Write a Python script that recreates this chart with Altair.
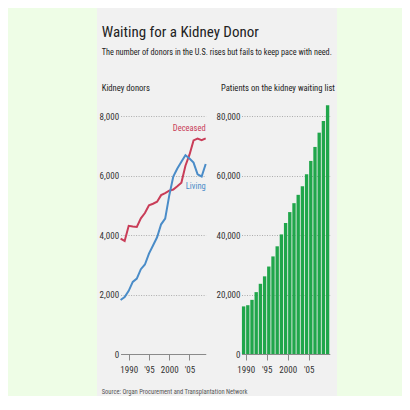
import altair as alt
import pandas as pd

# ---------------- data ----------------
donor_years = list(range(1988, 2010))
deceased = [3876, 3800, 4310, 4285, 4270, 4560, 4740, 5000, 5050, 5120, 5340,
            5410, 5490, 5530, 5640, 5760, 6330, 6700, 7180, 7240, 7190, 7250]
living = [1817, 1918, 2123, 2424, 2535, 2851, 3009, 3376, 3649, 3924, 4359,
          4552, 5324, 5967, 6234, 6465, 6680, 6569, 6434, 6038, 5968, 6387]

wait_years = list(range(1989, 2010))
waiting = [16000, 16400, 18200, 20800, 23600, 26100, 29400, 32800, 36200, 40200,
           44000, 47700, 50700, 53500, 56400, 60400, 64900, 69600, 74400, 78300, 83600]

x_tick_values = [1990, 1995, 2000, 2005]
x_tick_labels = ["1990", "'95", "2000", "'05"]
donor_ticks = [0, 2000, 4000, 6000, 8000]
wait_ticks = [0, 20000, 40000, 60000, 80000]

title_text = "Waiting for a Kidney Donor"
subtitle_text = "The number of donors in the U.S. rises but fails to keep pace with need."
left_head = "Kidney donors"
right_head = "Patients on the kidney waiting list"
source_text = "Source: Organ Procurement and Transplantation Network"

# ---------------- style ----------------
FONT = "Roboto Condensed, DejaVu Sans Condensed, sans-serif"
W, H = 394, 388
PANEL = "#f1f1f1"
OUTER = "#eefde6"
RED = "#c93d58"
BLUE = "#4a8cc8"
GREEN = "#20a64b"
GRID = "#9a9a9a"
AXIS = "#8a8a8a"
TXT = "#222222"

label_expr = " : ".join(f'datum.value == {v} ? "{l}"' for v, l in zip(x_tick_values, x_tick_labels)) + ' : ""'

donors = pd.DataFrame({"year": donor_years, "Deceased": deceased, "Living": living})
wait = pd.DataFrame({"year": wait_years, "waiting": waiting})
one = alt.Data(values=[{"k": 0}])

# ---------------- left panel ----------------
x_left_scale = alt.Scale(domain=[1988, 2009], range=[112.6, 197.7], nice=False, zero=False)
y_left_scale = alt.Scale(domain=[0, 8000], range=[346, 108], nice=False)
x_left_axis = alt.Axis(orient="bottom", offset=-42, values=x_tick_values, labelExpr=label_expr,
                       grid=False, domainColor=AXIS, domainWidth=1.2, tickColor=AXIS, tickSize=6,
                       labelFont=FONT, labelFontSize=9, labelColor="#333", labelPadding=5, title=None)
y_left_axis = alt.Axis(orient="left", offset=-112.6, values=donor_ticks, format=",d", domain=False,
                       ticks=False, grid=True, gridColor=GRID, gridDash=[1, 1.5], gridWidth=0.8,
                       labelFont=FONT, labelFontSize=9, labelColor="#333", labelPadding=2, title=None)

def xl(field="year"):
    return alt.X(f"{field}:Q", scale=x_left_scale, axis=x_left_axis)

def yl(field):
    return alt.Y(f"{field}:Q", scale=y_left_scale, axis=y_left_axis)

red_line = alt.Chart(donors).mark_line(color=RED, strokeWidth=2).encode(x=xl(), y=yl("Deceased"))
blue_line = alt.Chart(donors).mark_line(color=BLUE, strokeWidth=2).encode(x=xl(), y=yl("Living"))
last = donors[donors.year == donor_years[-1]]
red_lab = alt.Chart(last).mark_text(align="right", baseline="middle", dy=-10, font=FONT,
                                    fontSize=8.5, color=RED).encode(
    x=xl(), y=yl("Deceased"), text=alt.value("Deceased"))
blue_lab = alt.Chart(last).mark_text(align="right", baseline="middle", dy=22, font=FONT,
                                     fontSize=8.5, color=BLUE).encode(
    x=xl(), y=yl("Living"), text=alt.value("Living"))
left = alt.layer(red_line, blue_line, red_lab, blue_lab)

# ---------------- right panel ----------------
x_right_scale = alt.Scale(domain=[1989, 2010], range=[233.5, 321.7], nice=False, zero=False)
y_right_scale = alt.Scale(domain=[0, 80000], range=[346, 108], nice=False)
x_right_axis = alt.Axis(orient="bottom", offset=-42, values=x_tick_values, labelExpr=label_expr,
                        grid=False, domainColor=AXIS, domainWidth=1.2, tickColor=AXIS, tickSize=6,
                        labelFont=FONT, labelFontSize=9, labelColor="#333", labelPadding=5, title=None)
y_right_axis = alt.Axis(orient="left", offset=-233.5, values=wait_ticks, format=",d", domain=False,
                        ticks=False, grid=True, gridColor=GRID, gridDash=[1, 1.5], gridWidth=0.8,
                        labelFont=FONT, labelFontSize=9, labelColor="#333", labelPadding=1.5, title=None)

bars = alt.Chart(wait).transform_calculate(
    x0="datum.year + 0.1", x1="datum.year + 0.9", base="0"
).mark_rect(color=GREEN).encode(
    x=alt.X("x0:Q", scale=x_right_scale, axis=x_right_axis),
    x2="x1:Q",
    y=alt.Y("waiting:Q", scale=y_right_scale, axis=y_right_axis),
    y2="base:Q",
)

# ---------------- decoration & text ----------------
def strip(x0, x1):
    return alt.Chart(one).mark_rect(color=OUTER).encode(
        x=alt.value(x0), x2=alt.value(x1), y=alt.value(0), y2=alt.value(H))

def label(txt, x, y, size, color=TXT):
    return alt.Chart(one).mark_text(align="left", baseline="alphabetic", font=FONT,
                                    fontSize=size, color=color).encode(
        x=alt.value(x), y=alt.value(y), text=alt.value(txt))

texts = [
    label(title_text, 93.7, 28.5, 15),
    label(subtitle_text, 93.7, 47, 8.2),
    label(left_head, 93.7, 82.5, 8.6),
    label(right_head, 213, 82.5, 8.6),
    label(source_text, 93.7, 386, 6.5, "#555555"),
]

chart = alt.layer(
    strip(0, 89), strip(329, W), left, bars, *texts
).resolve_scale(x="independent", y="independent").properties(
    width=W, height=H, autosize=alt.AutoSizeParams(type="none"), padding=0, background=PANEL
).configure_view(stroke=None)

chart.save("out.html", embed_options={"renderer": "svg", "actions": False})
